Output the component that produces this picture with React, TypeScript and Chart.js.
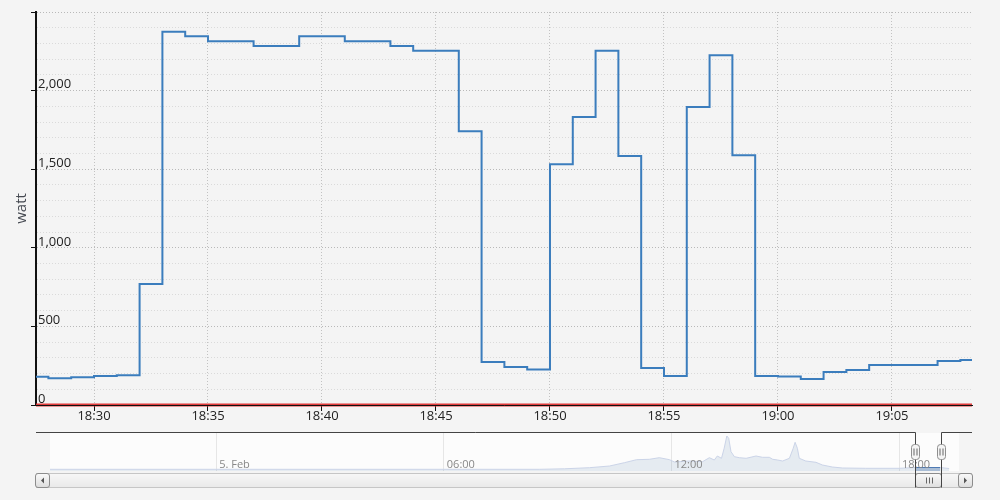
import React, { useEffect, useRef } from 'react';
import { Chart, registerables } from 'chart.js';

Chart.register(...registerables);

// ---------- main series (minutes after 18:00, watt) ----------
const minutes = [27, 28, 29, 30, 31, 32, 33, 34, 35, 36, 37, 38, 39, 40, 41, 42, 43, 44, 45, 46, 47, 48, 49, 50, 51, 52, 53, 54, 55, 56, 57, 58, 59, 60, 61, 62, 63, 64, 65, 66, 67, 68, 69];
const watts = [180, 170, 176, 185, 189, 770, 2374, 2346, 2314, 2314, 2284, 2284, 2346, 2346, 2314, 2314, 2284, 2253, 2253, 1741, 274, 242, 226, 1531, 1832, 2253, 1584, 236, 185, 1896, 2225, 1588, 185, 182, 165, 210, 223, 255, 255, 255, 280, 287, 287];

const X_MIN = 27.456;
const X_MAX = 68.51;
const xTickValues = [30, 35, 40, 45, 50, 55, 60, 65];
const xTickLabels = ['18:30', '18:35', '18:40', '18:45', '18:50', '18:55', '19:00', '19:05'];

const Y_MIN = 0;
const Y_MAX = 2500;
const yGridValues = [0, 100, 200, 300, 400, 500, 600, 700, 800, 900, 1000, 1100, 1200, 1300, 1400, 1500, 1600, 1700, 1800, 1900, 2000, 2100, 2200, 2300, 2400, 2500];
const yLabelValues = [0, 500, 1000, 1500, 2000];
const yLabels = ['0', '500', '1,000', '1,500', '2,000'];
const yMajorValues = [0, 500, 1000, 1500, 2000, 2500];

// ---------- navigator series (hours relative to 5. Feb 00:00) ----------
const navHours = [-4.38, 8.53, 9.18, 9.84, 10.37, 10.76, 11.08, 11.42, 11.68, 11.95, 12.08, 12.47, 12.82, 13.0, 13.13, 13.21, 13.32, 13.39, 13.46, 13.51, 13.57, 13.66, 13.79, 13.97, 14.23, 14.4, 14.58, 14.67, 14.8, 14.93, 15.11, 15.21, 15.26, 15.32, 15.37, 15.54, 15.81, 15.98, 16.24, 16.51, 17.12, 18.0, 18.42, 19.08, 19.32];
const navValues = [1360, 1360, 1760, 2640, 4000, 6640, 9040, 9360, 10640, 9040, 7200, 8000, 7440, 10640, 8800, 12000, 10160, 18160, 28000, 26160, 15440, 11440, 10640, 10160, 12000, 10960, 10960, 9360, 8800, 8000, 10160, 18160, 22960, 18160, 10160, 8000, 6960, 4800, 3200, 2400, 2160, 2160, 2800, 2800, 2000];
const NAV_MIN = -4.38;
const NAV_MAX = 19.58;
const NAV_Y_MAX = 30400;
const navTickValues = [0, 6, 12, 18];
const navTickLabels = ['5. Feb', '06:00', '12:00', '18:00'];
const SEL_START = 18 + X_MIN / 60;
const SEL_END = 18 + X_MAX / 60;

const FONT = '"Open Sans", "DejaVu Sans", sans-serif';

function rr(ctx: CanvasRenderingContext2D, x: number, y: number, w: number, h: number, r: number) {
  ctx.beginPath();
  ctx.moveTo(x + r, y);
  ctx.lineTo(x + w - r, y);
  ctx.arcTo(x + w, y, x + w, y + r, r);
  ctx.lineTo(x + w, y + h - r);
  ctx.arcTo(x + w, y + h, x + w - r, y + h, r);
  ctx.lineTo(x + r, y + h);
  ctx.arcTo(x, y + h, x, y + h - r, r);
  ctx.lineTo(x, y + r);
  ctx.arcTo(x, y, x + r, y, r);
  ctx.closePath();
}

const navPlugin = {
  id: 'navDecor',
  beforeDraw(chart: any) {
    const { ctx, chartArea } = chart;
    ctx.save();
    ctx.fillStyle = '#fcfcfc';
    ctx.fillRect(chartArea.left, chartArea.top, chartArea.right - chartArea.left, chartArea.bottom - chartArea.top);
    ctx.restore();
  },
  afterDatasetsDraw(chart: any) {
    const { ctx, chartArea } = chart;
    const xs = chart.scales.x;
    ctx.save();
    ctx.font = '11px ' + FONT;
    ctx.fillStyle = '#888';
    ctx.textAlign = 'left';
    ctx.textBaseline = 'middle';
    navTickValues.forEach((v, i) => {
      const px = xs.getPixelForValue(v);
      ctx.fillText(navTickLabels[i], px + 3, chartArea.bottom - 6);
    });
    ctx.restore();
  },
  afterDraw(chart: any) {
    const { ctx, chartArea } = chart;
    const xs = chart.scales.x;
    const l = Math.round(xs.getPixelForValue(SEL_START)) - 0.5;
    const r = Math.round(xs.getPixelForValue(SEL_END)) - 0.5;
    const sbTop = 43.5;
    const sbH = 14;
    const left = 36;
    const right = 972;
    ctx.save();
    // scrollbar track
    let g = ctx.createLinearGradient(0, sbTop, 0, sbTop + sbH);
    g.addColorStop(0, '#f7f7f7');
    g.addColorStop(1, '#e9e9e9');
    ctx.fillStyle = g;
    ctx.fillRect(left, sbTop, right - left, sbH);
    ctx.strokeStyle = '#c6c6c6';
    ctx.lineWidth = 1;
    ctx.strokeRect(left + 0.5, sbTop, right - left - 1, sbH);
    // buttons
    const drawButton = (bx: number, dir: number) => {
      const gb = ctx.createLinearGradient(0, sbTop, 0, sbTop + sbH);
      gb.addColorStop(0, '#fafafa');
      gb.addColorStop(1, '#dcdcdc');
      ctx.fillStyle = gb;
      rr(ctx, bx, sbTop, 14, sbH, 2.5);
      ctx.fill();
      ctx.strokeStyle = '#8c8c8c';
      ctx.stroke();
      const cx = bx + 7;
      const cy = sbTop + sbH / 2;
      ctx.fillStyle = '#555';
      ctx.beginPath();
      ctx.moveTo(cx - 1.5 * dir, cy);
      ctx.lineTo(cx + 1.5 * dir, cy - 3);
      ctx.lineTo(cx + 1.5 * dir, cy + 3);
      ctx.closePath();
      ctx.fill();
    };
    drawButton(35.5, 1);
    drawButton(958.5, -1);
    // thumb
    g = ctx.createLinearGradient(0, sbTop, 0, sbTop + sbH);
    g.addColorStop(0, '#fafafa');
    g.addColorStop(1, '#dedede');
    ctx.fillStyle = g;
    rr(ctx, l, sbTop, r - l, sbH, 2.5);
    ctx.fill();
    ctx.strokeStyle = '#8c8c8c';
    ctx.stroke();
    const tc = Math.round((l + r) / 2) + 0.5;
    ctx.strokeStyle = '#666';
    ctx.beginPath();
    for (const d of [-3, 0, 3]) {
      ctx.moveTo(tc + d, sbTop + 4);
      ctx.lineTo(tc + d, sbTop + 10);
    }
    ctx.stroke();
    // outline
    ctx.strokeStyle = '#444';
    ctx.lineWidth = 1;
    ctx.beginPath();
    ctx.moveTo(left, 2.5);
    ctx.lineTo(l, 2.5);
    ctx.lineTo(l, sbTop + sbH);
    ctx.moveTo(r, sbTop + sbH);
    ctx.lineTo(r, 2.5);
    ctx.lineTo(right, 2.5);
    ctx.stroke();
    // handles
    const hy = (chartArea.top + chartArea.bottom) / 2;
    for (const hx of [l, r]) {
      ctx.fillStyle = '#f4f4f4';
      rr(ctx, hx - 4, hy - 7.5, 8, 15, 3);
      ctx.fill();
      ctx.strokeStyle = '#8e8e8e';
      ctx.stroke();
      ctx.strokeStyle = '#666';
      ctx.beginPath();
      ctx.moveTo(hx - 1.5, hy - 3.5);
      ctx.lineTo(hx - 1.5, hy + 3.5);
      ctx.moveTo(hx + 1.5, hy - 3.5);
      ctx.lineTo(hx + 1.5, hy + 3.5);
      ctx.stroke();
    }
    ctx.restore();
  },
};

export default function App() {
  const mainRef = useRef<HTMLCanvasElement>(null);
  const navRef = useRef<HTMLCanvasElement>(null);

  useEffect(() => {
    const font = { family: FONT, size: 13 };
    const main = new Chart(mainRef.current as HTMLCanvasElement, {
      type: 'line',
      data: {
        datasets: [
          {
            data: [{ x: X_MIN, y: 0 }, { x: X_MAX, y: 0 }],
            borderColor: '#e03a3a',
            borderWidth: 3,
            pointRadius: 0,
            clip: 3,
            order: 2,
          } as any,
          {
            data: minutes.map((m, i) => ({ x: m, y: watts[i] })),
            borderColor: '#3b7dbd',
            borderWidth: 2,
            stepped: true,
            pointRadius: 0,
            fill: false,
            order: 1,
          },
        ],
      },
      options: {
        animation: false,
        responsive: false,
        maintainAspectRatio: false,
        layout: { padding: { left: 0, right: 28, top: 12, bottom: 0 } },
        plugins: { legend: { display: false }, tooltip: { enabled: false } },
        scales: {
          x: {
            type: 'linear',
            min: X_MIN,
            max: X_MAX,
            afterBuildTicks: (s: any) => {
              s.ticks = xTickValues.map((v) => ({ value: v }));
            },
            afterFit: (s: any) => {
              s.height = 25;
            },
            ticks: {
              autoSkip: false,
              maxRotation: 0,
              padding: -3,
              color: '#222',
              font,
              callback: (_v: any, i: number) => xTickLabels[i],
            },
            grid: { color: '#c2c2c2', lineWidth: 1, tickLength: 6, tickColor: '#111', tickWidth: 1 },
            border: { display: true, color: '#111', width: 1, dash: [1, 2], z: 1 },
          },
          y: {
            min: Y_MIN,
            max: Y_MAX,
            afterBuildTicks: (s: any) => {
              s.ticks = yGridValues.map((v) => ({ value: v }));
            },
            afterFit: (s: any) => {
              s.width = 36;
            },
            ticks: {
              mirror: true,
              padding: 2,
              labelOffset: -6,
              autoSkip: false,
              color: '#222',
              font,
              callback: (v: any) => {
                const i = yLabelValues.indexOf(Number(v));
                return i >= 0 ? yLabels[i] : '';
              },
            },
            grid: {
              color: (c: any) => (c.tick && yMajorValues.includes(c.tick.value) ? '#b9b9b9' : '#dadada'),
              tickColor: (c: any) => (c.tick && yMajorValues.includes(c.tick.value) ? '#111' : 'rgba(0,0,0,0)'),
              tickLength: 5,
              lineWidth: 1,
            },
            border: { display: true, color: '#111', width: 2, dash: [1, 2] },
            title: {
              display: true,
              text: 'watt',
              color: '#444850',
              font: { family: FONT, size: 15 },
              padding: { top: 13, bottom: 0 },
            },
          },
        },
      } as any,
    });

    const nav = new Chart(navRef.current as HTMLCanvasElement, {
      type: 'line',
      data: {
        datasets: [
          {
            data: navHours.map((h, i) => ({ x: h, y: navValues[i] })),
            borderColor: '#cbd4e8',
            backgroundColor: 'rgba(69,114,167,0.12)',
            borderWidth: 1,
            fill: 'origin',
            pointRadius: 0,
            segment: {
              borderColor: (c: any) => (c.p0.parsed.x >= SEL_START - 0.05 && c.p1.parsed.x <= SEL_END + 0.05 ? '#4d79b3' : undefined),
              backgroundColor: (c: any) => (c.p0.parsed.x >= SEL_START - 0.05 && c.p1.parsed.x <= SEL_END + 0.05 ? 'rgba(69,114,167,0.45)' : undefined),
            },
          } as any,
        ],
      },
      options: {
        animation: false,
        responsive: false,
        maintainAspectRatio: false,
        layout: { padding: { left: 50, right: 41, top: 3, bottom: 29 } },
        plugins: { legend: { display: false }, tooltip: { enabled: false } },
        scales: {
          x: {
            type: 'linear',
            min: NAV_MIN,
            max: NAV_MAX,
            afterBuildTicks: (s: any) => {
              s.ticks = navTickValues.map((v) => ({ value: v }));
            },
            afterFit: (s: any) => {
              s.height = 0;
            },
            ticks: { display: false },
            grid: { color: '#e6e6e6', drawTicks: false, lineWidth: 1 },
            border: { display: false },
          },
          y: { display: false, min: 0, max: NAV_Y_MAX },
        },
      } as any,
      plugins: [navPlugin as any],
    });

    return () => {
      main.destroy();
      nav.destroy();
    };
  }, []);

  return (
    <div style={{ width: 1000, height: 500, background: '#f4f4f4', position: 'relative', overflow: 'hidden' }}>
      <style>{'html,body{margin:0;padding:0;background:#f4f4f4;}'}</style>
      <canvas ref={mainRef} width={1000} height={430} style={{ display: 'block', width: 1000, height: 430 }} />
      <canvas ref={navRef} width={1000} height={70} style={{ display: 'block', width: 1000, height: 70 }} />
    </div>
  );
}
